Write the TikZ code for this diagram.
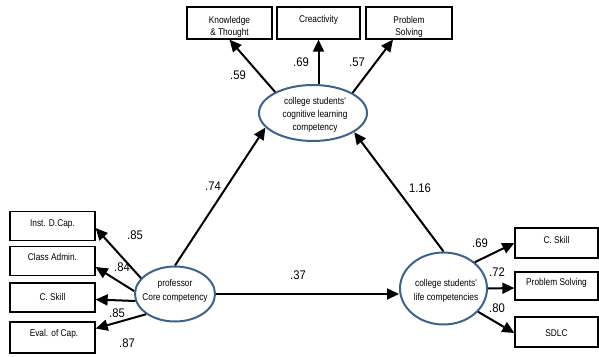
\documentclass[tikz,border=0pt]{standalone}
\usepackage{fontspec}
\setmainfont{Liberation Sans}
\newfontfamily\narrowfont[FakeStretch=0.85]{Liberation Sans}
\newfontfamily\coeffont[FakeStretch=0.9]{Liberation Sans}
\usetikzlibrary{shapes.geometric,arrows.meta}
\definecolor{ellblue}{RGB}{62,98,138}
\tikzset{
  box/.style={draw, line width=1.3pt, minimum width=85pt, minimum height=29pt, inner sep=0pt},
  txt/.style={font=\narrowfont\fontsize{9.8}{12.5}\selectfont, align=center, inner sep=0pt},
  ell/.style={ellipse, draw=ellblue, line width=2pt, inner sep=0pt},
  arr/.style={line width=2pt, -{Triangle[length=12pt,width=11pt]}},
  coef/.style={font=\coeffont\fontsize{12.5}{14}\selectfont, inner sep=0pt}
}
\begin{document}
\begin{tikzpicture}[x=1pt,y=-1pt]
\useasboundingbox (0,0) rectangle (599,356);
% top boxes
\node[box, minimum width=85pt, minimum height=32pt] (know) at (229.5,23) {};
\node[box, minimum width=83pt, minimum height=32pt] (cre) at (318.5,23) {};
\node[box, minimum width=86pt, minimum height=32pt] (ps) at (409,23) {};
\node[txt] (knowt) at (229.5,27) {Knowledge\\\& Thought};
\node[txt] (cret) at (318.5,20) {Creactivity};
\node[txt] (pst) at (409,27) {Problem\\Solving};
% left boxes
\node[box] (inst) at (52.5,226) {};
\node[box] (cls) at (52.5,261) {};
\node[box] (lcs) at (52.5,297.5) {};
\node[box, minimum height=31pt] (eval) at (52.5,337.5) {};
\node[txt] (instt) at (52.5,224) {Inst. D.Cap.};
\node[txt] (clst) at (52.5,257) {Class Admin.};
\node[txt] (lcst) at (52.5,297) {C. Skill};
\node[txt] (evalt) at (54,334) {Eval. of Cap.};
% right boxes
\node[box, minimum width=83pt, minimum height=30pt] (rcs) at (556.5,243) {};
\node[box, minimum width=83pt, minimum height=28pt] (rps) at (556.5,286) {};
\node[box, minimum width=83pt, minimum height=30pt] (sdlc) at (556.5,332) {};
\node[txt] (rcst) at (556.5,240) {C. Skill};
\node[txt] (rpst) at (556.5,283) {Problem Solving};
\node[txt] (sdlct) at (556.5,333) {SDLC};
% ellipses
\node[ell, minimum width=108pt, minimum height=56pt] (cog) at (313,113) {};
\node[ell, minimum width=80pt, minimum height=55pt] (prof) at (175,294) {};
\node[ell, minimum width=87pt, minimum height=72pt] (life) at (443.5,288.5) {};
\node[txt, font=\narrowfont\fontsize{9.8}{13}\selectfont] (cogt) at (315,115) {college students'\\cognitive learning\\competency};
\node[txt, font=\narrowfont\fontsize{9.8}{14.5}\selectfont] (proft) at (175,291) {professor\\Core competency};
\node[txt, font=\narrowfont\fontsize{9.8}{14.5}\selectfont] (lifet) at (446,291) {college students'\\life competencies};
% named arrow ends
\coordinate (pstip) at ([xshift=-16pt]ps.south);
\coordinate (cretail) at (cog.north -| cre.south);
\coordinate (clstip) at ([yshift=-6pt]cls.east);
\coordinate (lcstip) at ([yshift=-2pt]lcs.east);
\coordinate (evaltip) at ([yshift=9pt]eval.east);
\coordinate (instip) at ([yshift=-2pt]inst.east);
\coordinate (rpstip) at ([yshift=-2pt]rps.west);
\coordinate (sdlctip) at ([yshift=-1pt]sdlc.west);
\coordinate (lifetip) at (prof.east -| life.west);
% arrows
\draw[arr] (cog.151) -- (know.south);
\draw[arr] (cretail) -- (cre.south);
\draw[arr] (cog.27) -- (pstip);
\draw[arr] (prof.north) -- (cog.197);
\draw[arr] (life.north) -- (cog.335);
\draw[arr] (prof.east) -- (lifetip);
\draw[arr] (prof.155) -- (instip);
\draw[arr] (prof.176) -- (clstip);
\draw[arr] (prof.190) -- (lcstip);
\draw[arr] (prof.215) -- (evaltip);
\draw[arr] (life.40) -- (rcs.west);
\draw[arr] (life.east) -- (rpstip);
\draw[arr] (life.326) -- (sdlctip);
% coefficients
\node[coef] (c1) at (238,75) {.59};
\node[coef] (c2) at (301,62) {.69};
\node[coef] (c3) at (357,62) {.57};
\node[coef] (c4) at (213,186) {.74};
\node[coef] (c5) at (420,188) {1.16};
\node[coef] (c6) at (298,275) {.37};
\node[coef] (c7) at (135,235) {.85};
\node[coef] (c8) at (122,267) {.84};
\node[coef] (c9) at (117,313) {.85};
\node[coef] (c10) at (127,343) {.87};
\node[coef] (c11) at (480,243) {.69};
\node[coef] (c12) at (497,272) {.72};
\node[coef] (c13) at (497,308) {.80};
\end{tikzpicture}
\end{document}
